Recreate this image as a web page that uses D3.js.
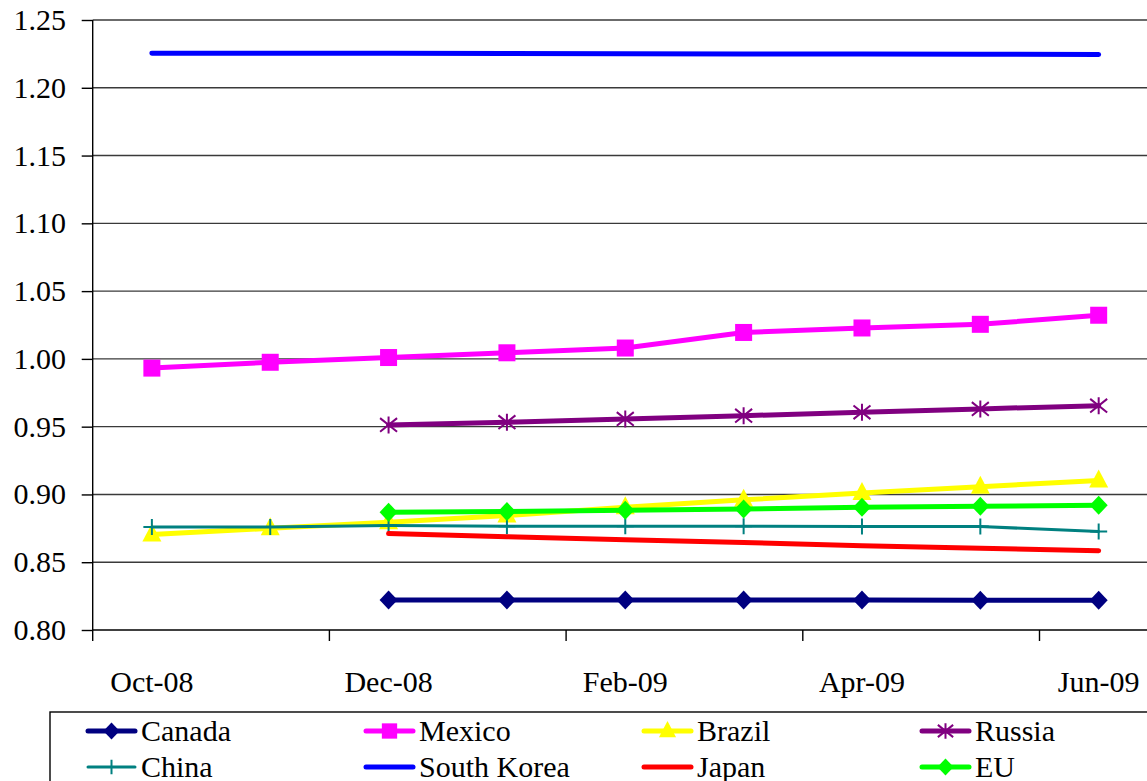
<!DOCTYPE html>
<html>
<head>
<meta charset="utf-8">
<script src="https://cdn.jsdelivr.net/npm/d3@7"></script>
</head>
<body style="margin:0">
<svg id="chart" width="1147" height="781" style="font-family: Times New Roman"></svg>
<script>
// Monthly index values, Oct-08 .. Jun-09 (null = not available)
const months = ["Oct-08", "Nov-08", "Dec-08", "Jan-09", "Feb-09", "Mar-09", "Apr-09", "May-09", "Jun-09"];
const canada     = [null, null, 0.8222, 0.8222, 0.8221, 0.8221, 0.8221, 0.8220, 0.8220];
const mexico     = [0.9932, 0.9975, 1.0010, 1.0045, 1.0080, 1.0195, 1.0228, 1.0255, 1.0322];
const brazil     = [0.8705, 0.8750, 0.8795, 0.8845, 0.8905, 0.8960, 0.9010, 0.9057, 0.9103];
const russia     = [null, null, 0.9513, 0.9533, 0.9557, 0.9581, 0.9606, 0.9631, 0.9655];
const china      = [0.8760, 0.8760, 0.8770, 0.8765, 0.8765, 0.8765, 0.8764, 0.8763, 0.8727];
const southKorea = [1.2255, 1.2254, 1.2254, 1.2252, 1.2251, 1.2250, 1.2249, 1.2247, 1.2246];
const japan      = [null, null, 0.8711, 0.8688, 0.8666, 0.8645, 0.8622, 0.8603, 0.8585];
const eu         = [null, null, 0.8869, 0.8874, 0.8884, 0.8893, 0.8905, 0.8913, 0.8920];

const seriesNames = ["Canada", "Mexico", "Brazil", "Russia", "China", "South Korea", "Japan", "EU"];
const yTicks = [0.80, 0.85, 0.90, 0.95, 1.00, 1.05, 1.10, 1.15, 1.20, 1.25];
const xLabelMonths = ["Oct-08", "Dec-08", "Feb-09", "Apr-09", "Jun-09"];

const series = [
  { name: seriesNames[0], values: canada,     color: "#000080", width: 5, marker: "diamond" },
  { name: seriesNames[1], values: mexico,     color: "#FF00FF", width: 5, marker: "square" },
  { name: seriesNames[2], values: brazil,     color: "#FFFF00", width: 5, marker: "triangle" },
  { name: seriesNames[3], values: russia,     color: "#800080", width: 5, marker: "star" },
  { name: seriesNames[4], values: china,      color: "#008080", width: 3, marker: "plus" },
  { name: seriesNames[5], values: southKorea, color: "#0000FF", width: 5, marker: "none" },
  { name: seriesNames[6], values: japan,      color: "#FF0000", width: 5, marker: "none" },
  { name: seriesNames[7], values: eu,         color: "#00FF00", width: 5, marker: "diamond" }
];

const svg = d3.select("#chart");

// serif face and size for every label
function serif(sel) {
  sel.attr("font-size", 30).style("font-family", "Times New Roman").attr("fill", "#000");
}

// plot area: the category band continues past the right edge of the page
const plotLeft = 92.7, bandW = 118.35, plotTop = 20, plotBottom = 630;
const x = d3.scaleBand().domain(months).range([plotLeft, plotLeft + bandW * months.length]).paddingInner(0).paddingOuter(0);
const cx = m => x(m) + x.bandwidth() / 2;
const y = d3.scaleLinear().domain([0.80, 1.25]).range([plotBottom, plotTop]);

// horizontal gridlines
svg.append("g").selectAll("line").data(yTicks.filter(t => t > 0.80)).join("line")
  .attr("x1", plotLeft).attr("x2", 1147)
  .attr("y1", d => y(d)).attr("y2", d => y(d))
  .attr("stroke", "#3a3a3a").attr("stroke-width", 1.4);

// y axis: tick marks from d3.axisLeft, labels as plain text at the same values
const yAxis = d3.axisLeft(y).tickValues(yTicks).tickFormat("").tickSize(11);
const gy = svg.append("g").attr("transform", `translate(${plotLeft},0)`).call(yAxis);
gy.select(".domain").remove();
gy.selectAll(".tick line").attr("stroke", "#000").attr("stroke-width", 1.4);
gy.selectAll(".tick text").remove();
svg.append("g").selectAll("text").data(yTicks).join("text")
  .attr("x", 66).attr("y", d => y(d) + 10)
  .attr("text-anchor", "end")
  .text(d => d3.format(".2f")(d))
  .call(serif);
svg.append("line").attr("x1", plotLeft).attr("x2", plotLeft).attr("y1", plotTop).attr("y2", plotBottom + 11)
  .attr("stroke", "#000").attr("stroke-width", 1.4);

// x axis: ticks between every second month, labels under the months
svg.append("line").attr("x1", plotLeft).attr("x2", 1147).attr("y1", plotBottom).attr("y2", plotBottom)
  .attr("stroke", "#000").attr("stroke-width", 1.4);
svg.append("g").selectAll("line").data(months.filter((m, i) => i % 2 === 0 && i > 0)).join("line")
  .attr("x1", d => x(d)).attr("x2", d => x(d))
  .attr("y1", plotBottom).attr("y2", plotBottom + 11)
  .attr("stroke", "#000").attr("stroke-width", 1.4);
svg.append("g").selectAll("text").data(xLabelMonths).join("text")
  .attr("x", d => cx(d)).attr("y", 692)
  .attr("text-anchor", "middle")
  .text(d => d)
  .call(serif);

// marker shapes
function drawMarker(g, type, color, s) {
  const k = s || 1;
  if (type === "diamond") {
    g.append("path").attr("d", `M0,${-9.5*k}L${9*k},0L0,${9.5*k}L${-9*k},0Z`).attr("fill", color);
  } else if (type === "square") {
    g.append("rect").attr("x", -8.5*k).attr("y", -8.5*k).attr("width", 17*k).attr("height", 17*k).attr("fill", color);
  } else if (type === "triangle") {
    g.append("path").attr("d", `M0,${-11*k}L${9.5*k},${7*k}L${-9.5*k},${7*k}Z`).attr("fill", color);
  } else if (type === "star") {
    const r = 8.5*k;
    g.append("path").attr("d", `M${-r},${-r*0.8}L${r},${r*0.8}M${-r},${r*0.8}L${r},${-r*0.8}M0,${-r}L0,${r}`)
      .attr("stroke", color).attr("stroke-width", 2).attr("fill", "none");
  } else if (type === "plus") {
    g.append("path").attr("d", `M0,${-8*k}L0,${8*k}M${-8.5*k},0L${8.5*k},0`)
      .attr("stroke", color).attr("stroke-width", 2).attr("fill", "none");
  }
}

const line = d3.line()
  .defined(d => d.v !== null)
  .x(d => cx(d.m))
  .y(d => y(d.v));

series.forEach(s => {
  const pts = months.map((m, i) => ({ m, v: s.values[i] }));
  const g = svg.append("g").attr("class", "series");
  g.append("path").datum(pts)
    .attr("d", line)
    .attr("fill", "none").attr("stroke", s.color).attr("stroke-width", s.width)
    .attr("stroke-linejoin", "round").attr("stroke-linecap", "round");
  if (s.marker !== "none") {
    pts.filter(p => p.v !== null).forEach(p => {
      const mg = g.append("g").attr("transform", `translate(${cx(p.m)},${y(p.v)})`);
      drawMarker(mg, s.marker, s.color, 1);
    });
  }
});

// legend box (extends past the bottom and right edges)
const lg = svg.append("g");
lg.append("rect").attr("x", 50).attr("y", 712).attr("width", 1200).attr("height", 120)
  .attr("fill", "#fff").attr("stroke", "#000").attr("stroke-width", 1.4);
const colX = [88, 366, 644, 922];
const rowY = [731, 767];
series.forEach((s, i) => {
  const lx = colX[i % 4], ly = rowY[Math.floor(i / 4)];
  const item = lg.append("g");
  item.append("line").attr("x1", lx).attr("x2", lx + 47).attr("y1", ly).attr("y2", ly)
    .attr("stroke", s.color).attr("stroke-width", s.width).attr("stroke-linecap", "round");
  if (s.marker !== "none") {
    drawMarker(item.append("g").attr("transform", `translate(${lx + 23.5},${ly})`), s.marker, s.color, 0.9);
  }
  item.append("text").attr("x", lx + 53).attr("y", ly + 10)
    .text(s.name)
    .call(serif);
});
</script>
</body>
</html>
